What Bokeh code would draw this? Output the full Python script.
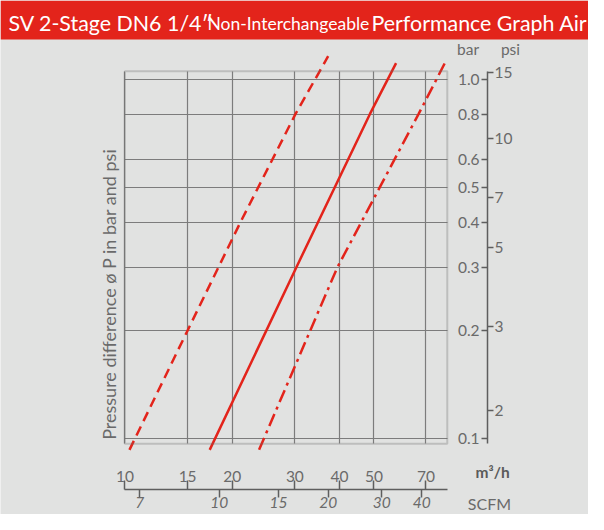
import math
from bokeh.plotting import figure
from bokeh.models import (LogAxis, FixedTicker, Grid, BoxAnnotation, Label,
                          Range1d, PrintfTickFormatter)
from bokeh.embed import file_html
from bokeh.resources import INLINE

# ---------------- data ----------------
title_main = "SV 2-Stage DN6 1/4\u2033"
title_small = "Non-Interchangeable"
title_tail = "Performance Graph Air"
y_title = "Pressure difference \u00f8 P in bar and psi"
x_unit = "m\u00b3/h"
x2_unit = "SCFM"
y_unit = "bar"
y2_unit = "psi"

flow_ticks_m3h = [10, 15, 20, 30, 40, 50, 70]
scfm_labels = ["7", "10", "15", "20", "30", "40"]
scfm_at_m3h = [11.0, 18.4, 27.0, 37.2, 52.6, 68.1]

bar_ticks = [0.1, 0.2, 0.3, 0.4, 0.5, 0.6, 0.8, 1.0]
psi_labels = ["15", "10", "7", "5", "3", "2"]
psi_at_bar = [1.046, 0.685, 0.468, 0.340, 0.2055, 0.12]

dashed_flow = [10.3, 15.0, 21.1, 30.1, 37.2]
dashed_dp = [0.093, 0.20, 0.40, 0.80, 1.16]
solid_flow = [17.3, 30.3, 48.7, 57.7]
solid_dp = [0.093, 0.30, 0.80, 1.11]
dashdot_flow = [23.8, 39.5, 66.7, 74.9, 79.6]
dashdot_dp = [0.093, 0.30, 0.80, 1.00, 1.125]

# ---------------- style / layout constants ----------------
RED = "#e3241b"
BG = "#e1e2e1"
TXT = "#6a6a6a"
AX = "#5e5e5e"
GRID = "#7c7c7c"
FONT = "Lato"

W, H = 588, 514
X_RANGE = (4.476, 200.1)
Y_RANGE = (0.06145, 1.6582)
BOX_LEFT, BOX_RIGHT = 10, 80.33
BOX_BOTTOM, BOX_TOP = 0.09675, 1.053
RIGHT_AXIS_X = 104.2
BOTTOM_AXIS_Y = 0.0721
BANNER_H = 39
TICK_FONT = "15.5px"
BASE_FIX = 6  # label baseline correction (px)

p = figure(width=W, height=H, x_axis_type="log", y_axis_type="log",
           x_range=Range1d(*X_RANGE), y_range=Range1d(*Y_RANGE),
           x_axis_location=None, y_axis_location=None,
           toolbar_location=None, output_backend="svg",
           background_fill_color=BG, border_fill_color=BG, outline_line_color=None,
           min_border=0)
p.grid.visible = False

# banner
p.add_layout(BoxAnnotation(bottom=H - BANNER_H, bottom_units="screen",
                           fill_color=RED, fill_alpha=1, line_color=None,
                           level="underlay"))
for txt, xpos, size in [(title_main, 8, "21.4px"), (title_small, 207, "17.5px"),
                        (title_tail, 371, "21.4px")]:
    p.add_layout(Label(x=xpos, y=H - 28.6 + BASE_FIX, x_units="screen",
                       y_units="screen", text=txt, text_font=FONT,
                       text_font_size=size, text_color="white",
                       text_baseline="alphabetic"))

# grid and box
p.add_layout(Grid(dimension=0, ticker=FixedTicker(ticks=flow_ticks_m3h),
                  grid_line_color=GRID, grid_line_width=1.2,
                  cross_bounds=(BOX_BOTTOM, BOX_TOP)))
p.add_layout(Grid(dimension=1, ticker=FixedTicker(ticks=bar_ticks),
                  grid_line_color=GRID, grid_line_width=1.2,
                  cross_bounds=(BOX_LEFT, BOX_RIGHT)))
p.add_layout(BoxAnnotation(left=BOX_LEFT, right=BOX_RIGHT, bottom=BOX_BOTTOM,
                           top=BOX_TOP, fill_color=None, fill_alpha=0,
                           line_color="#6a6a6a", line_width=2))

# curves
p.line(dashed_flow, dashed_dp, line_color=RED, line_width=2.5, line_dash="10 6")
p.line(solid_flow, solid_dp, line_color=RED, line_width=2.5)
p.line(dashdot_flow, dashdot_dp, line_color=RED, line_width=2.5, line_dash="13 5 3 5")


def mk_axis(ticks, **kw):
    ax = LogAxis(ticker=FixedTicker(ticks=ticks), minor_tick_line_color=None,
                 major_tick_in=0, major_label_text_font=FONT,
                 major_label_text_color=TXT, major_label_text_font_size=TICK_FONT,
                 major_tick_line_color=AX, major_tick_line_width=1.5,
                 axis_line_color=AX, axis_line_width=1.5)
    for k, v in kw.items():
        setattr(ax, k, v)
    return ax


# right: bar (labels left of the line) and psi (labels right of the line)
bar_axis = mk_axis(bar_ticks, fixed_location=RIGHT_AXIS_X,
                   bounds=(BOX_BOTTOM, BOX_TOP), axis_line_color=None,
                   formatter=PrintfTickFormatter(format="%.1f"),
                   major_tick_out=6, major_label_standoff=2)
psi_axis = mk_axis(psi_at_bar, fixed_location=RIGHT_AXIS_X,
                   bounds=(BOX_BOTTOM, BOX_TOP),
                   major_label_overrides=dict(zip(psi_at_bar, psi_labels)),
                   major_tick_out=6, major_label_standoff=1)
p.add_layout(bar_axis, "left")
p.add_layout(psi_axis, "right")

# bottom: m3/h (labels above the line) and SCFM (labels below the line)
m3h_axis = mk_axis(flow_ticks_m3h, fixed_location=BOTTOM_AXIS_Y,
                   bounds=(BOX_LEFT, BOX_RIGHT), axis_line_color=None,
                   formatter=PrintfTickFormatter(format="%d"),
                   major_tick_out=9, major_label_standoff=-1)
scfm_axis = mk_axis(scfm_at_m3h, fixed_location=BOTTOM_AXIS_Y,
                    bounds=(BOX_LEFT, BOX_RIGHT),
                    major_label_overrides=dict(zip(scfm_at_m3h, scfm_labels)),
                    major_tick_out=8, major_label_standoff=-1,
                    major_label_text_font_style="italic")
p.add_layout(m3h_axis, "above")
p.add_layout(scfm_axis, "below")


# unit labels and axis title (screen units: from frame left / frame bottom)
def txt_label(text, x, y, size=TICK_FONT, style="normal", color=TXT, **kw):
    p.add_layout(Label(x=x, y=y, x_units="screen", y_units="screen", text=text,
                       text_font=FONT, text_font_size=size, text_font_style=style,
                       text_color=color, text_baseline="alphabetic", **kw))


txt_label(y_unit, 456.6, 460 + BASE_FIX)
txt_label(y2_unit, 500.4, 460 + BASE_FIX)
txt_label(x_unit, 475, 36.9 + BASE_FIX, style="bold", color="#5a5a5a")
txt_label(x2_unit, 467.3, 5 + BASE_FIX, size="16px")
txt_label(y_title, 114.9 - BASE_FIX, 74.7, size="18px", angle=math.pi / 2,
          text_align="left")

open("out.html", "w").write(file_html(p, INLINE))
